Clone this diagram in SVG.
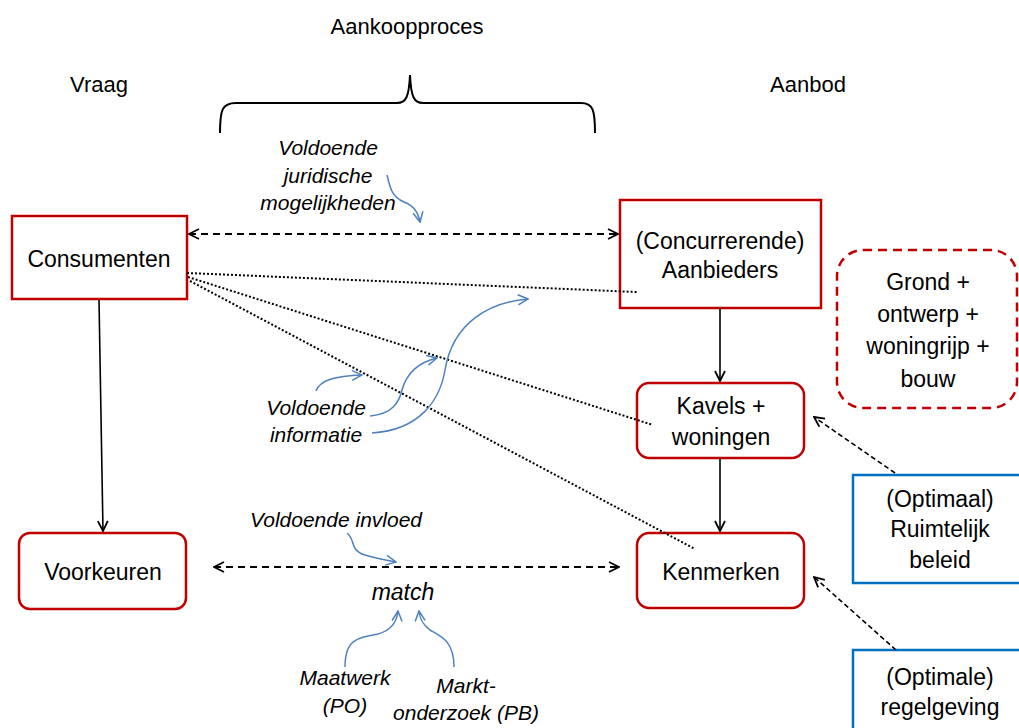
<svg xmlns="http://www.w3.org/2000/svg" width="1019" height="728" viewBox="0 0 1019 728">
<style>
text{font-family:"Liberation Sans",Arial,sans-serif;fill:#000;text-anchor:middle}
.h{font-size:22px}
.n{font-size:23px}
.i{font-size:21px;font-style:italic}
.m{font-size:23px;font-style:italic}
.red{fill:#fff;stroke:#C00000;stroke-width:2.5}
.redd{fill:#fff;stroke:#C00000;stroke-width:2.5;stroke-dasharray:9,6}
.blue{fill:#fff;stroke:#0070C0;stroke-width:2.5}
.solid{fill:none;stroke:#000;stroke-width:1.6;marker-end:url(#ah)}
.dash2{fill:none;stroke:#000;stroke-width:1.8;stroke-dasharray:7,5;marker-start:url(#ah);marker-end:url(#ah)}
.dash1{fill:none;stroke:#000;stroke-width:1.6;stroke-dasharray:5,3;marker-end:url(#ah)}
.dot{fill:none;stroke:#000;stroke-width:2;stroke-dasharray:2,2}
.cb{fill:none;stroke:#4F81BD;stroke-width:1.5;marker-end:url(#bh)}
.brace{fill:none;stroke:#000;stroke-width:2}
</style>
<defs>
<marker id="ah" viewBox="0 0 12 12" refX="11" refY="6" markerWidth="12" markerHeight="12" markerUnits="userSpaceOnUse" orient="auto-start-reverse">
<path d="M1,1 L11,6 L1,11" fill="none" stroke="#000" stroke-width="1.8"/>
</marker>
<marker id="bh" viewBox="0 0 12 12" refX="11" refY="6" markerWidth="12" markerHeight="12" markerUnits="userSpaceOnUse" orient="auto">
<path d="M1,1 L11,6 L1,11" fill="none" stroke="#4F81BD" stroke-width="1.5"/>
</marker>
</defs>
<rect width="1019" height="728" fill="#fff"/>

<g id="labels">
<text class="h" x="407" y="34">Aankoopproces</text>
<text class="h" x="99" y="92">Vraag</text>
<text class="h" x="808" y="92">Aanbod</text>
<path class="brace" d="M220,133 C220,110 222,103 236,103 L397,103 C406,103 409,97 410,75 C411,97 414,103 423,103 L581,103 C593,103 595,110 595,133"/>
<text class="i" x="328" y="155">Voldoende</text>
<text class="i" x="328" y="183">juridische</text>
<text class="i" x="328" y="210">mogelijkheden</text>
<text class="i" x="316" y="415">Voldoende</text>
<text class="i" x="316" y="442">informatie</text>
<text class="i" x="336" y="527">Voldoende invloed</text>
<text class="m" x="403" y="600">match</text>
<text class="i" x="345" y="685">Maatwerk</text>
<text class="i" x="345" y="713">(PO)</text>
<text class="i" x="466" y="693">Markt-</text>
<text class="i" x="466" y="720">onderzoek (PB)</text>
</g>

<g id="consumenten">
<rect class="red" x="12" y="216" width="175" height="83"/>
<text class="n" x="99" y="267">Consumenten</text>
</g>
<g id="voorkeuren">
<rect class="red" x="19" y="533" width="167" height="76" rx="11"/>
<text class="n" x="103" y="580">Voorkeuren</text>
</g>
<g id="aanbieders">
<rect class="red" x="620" y="200" width="201" height="108"/>
<text class="n" x="720" y="249">(Concurrerende)</text>
<text class="n" x="720" y="278">Aanbieders</text>
</g>
<g id="kavels">
<rect class="red" x="637" y="383" width="167" height="75" rx="12"/>
<text class="n" x="721" y="414">Kavels +</text>
<text class="n" x="721" y="445">woningen</text>
</g>
<g id="kenmerken">
<rect class="red" x="637" y="533" width="167" height="75" rx="12"/>
<text class="n" x="721" y="580">Kenmerken</text>
</g>
<g id="grond">
<rect class="redd" x="837" y="250" width="180" height="158" rx="26"/>
<text class="n" x="928" y="290">Grond +</text>
<text class="n" x="928" y="322">ontwerp +</text>
<text class="n" x="928" y="354">woningrijp +</text>
<text class="n" x="928" y="387">bouw</text>
</g>
<g id="ruimtelijk">
<rect class="blue" x="853" y="475" width="190" height="108"/>
<text class="n" x="940" y="507">(Optimaal)</text>
<text class="n" x="940" y="537">Ruimtelijk</text>
<text class="n" x="940" y="568">beleid</text>
</g>
<g id="regelgeving">
<rect class="blue" x="853" y="650" width="190" height="100"/>
<text class="n" x="940" y="685">(Optimale)</text>
<text class="n" x="940" y="715">regelgeving</text>
</g>

<g id="connectors">
<line class="dash2" x1="189" y1="234" x2="618" y2="234"/>
<line class="dash2" x1="214" y1="567" x2="619" y2="567"/>
<path class="solid" d="M99,300 L103,531"/>
<path class="solid" d="M720,308 L720,381"/>
<path class="solid" d="M720,458 L720,531"/>
<line class="dot" x1="187" y1="273" x2="637" y2="292"/>
<line class="dot" x1="188" y1="277" x2="653" y2="425"/>
<line class="dot" x1="190" y1="281" x2="695" y2="549"/>
<path class="dash1" d="M895,473 L814,417"/>
<path class="dash1" d="M896,650 L814,577"/>
<path class="cb" d="M387,175 C390,188 392,197 404,202 C414,206 418,212 420,222"/>
<path class="cb" d="M316,391 C320,380 335,376 362,375"/>
<path class="cb" d="M370,416 C393,414 399,402 402,390 C407,372 420,362 437,358"/>
<path class="cb" d="M372,433 C420,430 440,400 445,370 C453,322 490,302 528,299"/>
<path class="cb" d="M347,533 C356,540 349,550 365,555 C375,558 385,560 396,562"/>
<path class="cb" d="M345,667 C345,640 356,638 378,634 C392,630 397,622 398,611"/>
<path class="cb" d="M454,667 C454,640 440,636 430,630 C423,625 420,620 419,611"/>
</g>
</svg>
